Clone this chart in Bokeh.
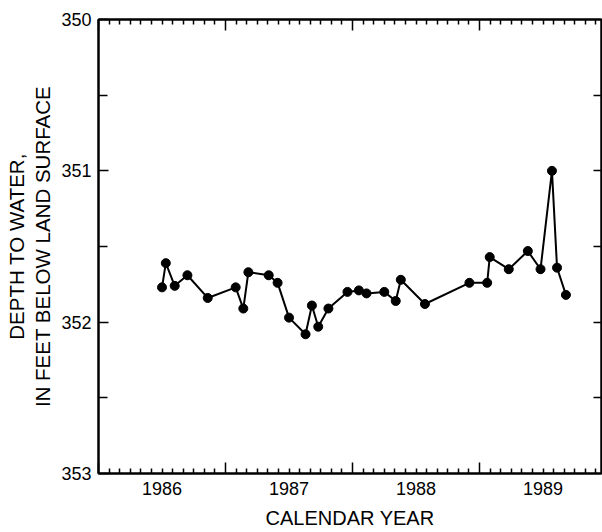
from bokeh.plotting import figure
from bokeh.models import LinearAxis, FixedTicker, Range1d, ColumnDataSource, CustomLabelingPolicy
from bokeh.embed import file_html
from bokeh.resources import INLINE

# ---- data ----
years = [1986.50, 1986.53, 1986.60, 1986.70, 1986.86, 1987.08, 1987.14, 1987.18,
         1987.34, 1987.41, 1987.50, 1987.63, 1987.68, 1987.73, 1987.81, 1987.96,
         1988.05, 1988.11, 1988.25, 1988.34, 1988.38, 1988.57, 1988.92, 1989.06,
         1989.08, 1989.23, 1989.38, 1989.48, 1989.57, 1989.61, 1989.68]
depth = [351.77, 351.61, 351.76, 351.69, 351.84, 351.77, 351.91, 351.67,
         351.69, 351.74, 351.97, 352.08, 351.89, 352.03, 351.91, 351.80,
         351.79, 351.81, 351.80, 351.86, 351.72, 351.88, 351.74, 351.74,
         351.57, 351.65, 351.53, 351.65, 351.00, 351.64, 351.82]

year_labels = ["1986", "1987", "1988", "1989"]
year_bounds = [1986, 1987, 1988, 1989, 1990]
y_major = [350, 351, 352, 353]
y_minor = [350.5, 351.5, 352.5]
y_right = [350.5, 351, 351.5, 352, 352.5]

label_pos = [int(s) + 0.5 for s in year_labels]
month_ticks = [y + m / 12 for y in year_bounds[:-1] for m in range(1, 12)]

FONT = "Liberation Sans"

p = figure(width=602, height=532, output_backend="svg", toolbar_location=None,
           x_range=Range1d(1986.0, 1989.96), y_range=Range1d(353, 350),
           x_axis_type=None, y_axis_type=None,
           min_border_left=98, min_border_right=1, min_border_top=19,
           min_border_bottom=59)
p.xgrid.visible = False
p.ygrid.visible = False
p.outline_line_color = "black"
p.outline_line_width = 2
p.background_fill_color = "white"
p.border_fill_color = "white"

hide_labels = "const result = new Set()\nreturn result"


def tick_axis(ticks, minor, major_len, minor_len):
    ax = LinearAxis(ticker=FixedTicker(ticks=ticks, minor_ticks=minor),
                    major_tick_in=major_len, major_tick_out=0,
                    minor_tick_in=minor_len, minor_tick_out=0,
                    major_label_text_font_size="0px", major_label_standoff=0,
                    major_label_policy=CustomLabelingPolicy(code=hide_labels),
                    axis_line_color="black", axis_line_width=2,
                    major_tick_line_color="black", major_tick_line_width=1.5,
                    minor_tick_line_color="black", minor_tick_line_width=1.5)
    return ax


# bottom tick marks (nearest frame)
p.add_layout(tick_axis(year_bounds, month_ticks, 11, 5), "below")
# bottom labels at mid-year
lab_ax = LinearAxis(ticker=FixedTicker(ticks=label_pos, minor_ticks=[]),
                    major_label_overrides={lp: s for lp, s in zip(label_pos, year_labels)},
                    major_tick_in=0, major_tick_out=0, minor_tick_in=0, minor_tick_out=0,
                    axis_line_color=None, major_tick_line_color=None,
                    minor_tick_line_color=None,
                    major_label_standoff=8,
                    major_label_text_font=FONT, major_label_text_font_size="18px",
                    major_label_text_color="black",
                    axis_label="CALENDAR YEAR", axis_label_text_font=FONT,
                    axis_label_text_font_size="20px", axis_label_text_font_style="normal",
                    axis_label_text_color="black", axis_label_standoff=9)
p.add_layout(lab_ax, "below")

# top ticks
p.add_layout(tick_axis(year_bounds, month_ticks, 11, 5), "above")

# right ticks
p.add_layout(tick_axis(y_right, [], 8, 0), "right")

# left axis with labels
left_ax = LinearAxis(ticker=FixedTicker(ticks=y_major, minor_ticks=y_minor),
                     major_tick_in=10, major_tick_out=0,
                     minor_tick_in=9, minor_tick_out=0,
                     axis_line_color="black", axis_line_width=2,
                     major_tick_line_color="black", major_tick_line_width=1.5,
                     minor_tick_line_color="black", minor_tick_line_width=1.5,
                     major_label_standoff=7,
                     major_label_text_font=FONT, major_label_text_font_size="18px",
                     major_label_text_color="black",
                     axis_label="DEPTH TO WATER,\nIN FEET BELOW LAND SURFACE",
                     axis_label_text_font=FONT, axis_label_text_font_size="20.5px",
                     axis_label_text_font_style="normal",
                     axis_label_text_line_height=1.15,
                     axis_label_text_color="black", axis_label_standoff=4)
p.add_layout(left_ax, "left")

src = ColumnDataSource(dict(x=years, y=depth))
p.line("x", "y", source=src, line_color="black", line_width=2)
p.scatter("x", "y", source=src, size=9, fill_color="black", line_color="black")

open("out.html", "w").write(file_html(p, INLINE))
